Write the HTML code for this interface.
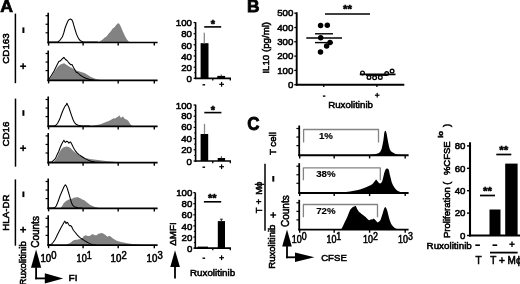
<!DOCTYPE html>
<html><head><meta charset="utf-8"><title>Figure</title>
<style>
html,body{margin:0;padding:0;background:#fff;}
body{width:520px;height:284px;overflow:hidden;font-family:"Liberation Sans",sans-serif;}
svg{display:block;}
svg text{font-family:"Liberation Sans",sans-serif;fill:#000;stroke:#000;stroke-width:0.55px;}
</style></head><body>
<svg width="520" height="284" viewBox="0 0 520 284">
<defs><filter id="bl" x="-2%" y="-2%" width="104%" height="104%"><feGaussianBlur stdDeviation="0.45"/></filter></defs>
<rect width="520" height="284" fill="#fff"/>
<g filter="url(#bl)">
<text transform="translate(0.2 12.3) scale(1.06 1)" font-size="16.7" text-anchor="start" font-weight="bold" style="stroke-width:0.7px">A</text>
<line x1="15.4" y1="13.6" x2="15.4" y2="83.2" stroke="#000" stroke-width="1.5" stroke-linecap="butt"/>
<text transform="translate(9 48.5) rotate(-90)" font-size="9.75" text-anchor="middle" >CD163</text>
<line x1="15.5" y1="98.6" x2="15.5" y2="166.7" stroke="#000" stroke-width="1.5" stroke-linecap="butt"/>
<text transform="translate(9 134.0) rotate(-90)" font-size="9.8" text-anchor="middle" >CD16</text>
<line x1="15.4" y1="179.4" x2="15.4" y2="245.7" stroke="#000" stroke-width="1.5" stroke-linecap="butt"/>
<text transform="translate(9.4 212.6) rotate(-90)" font-size="9.7" text-anchor="middle" >HLA-DR</text>
<rect x="22.4" y="27.4" width="2.0" height="5.6" fill="#000"/>
<rect x="20.1" y="65.45" width="6.0" height="1.5" fill="#000"/>
<rect x="22.35" y="63.2" width="1.5" height="6.0" fill="#000"/>
<rect x="22.4" y="110.2" width="2.0" height="5.6" fill="#000"/>
<rect x="20.1" y="147.45" width="6.0" height="1.5" fill="#000"/>
<rect x="22.35" y="145.2" width="1.5" height="6.0" fill="#000"/>
<rect x="22.4" y="191.5" width="2.0" height="5.6" fill="#000"/>
<rect x="20.1" y="228.95" width="6.0" height="1.5" fill="#000"/>
<rect x="22.35" y="226.7" width="1.5" height="6.0" fill="#000"/>
<polygon points="97.0,42.5 99.4,41.6 102.0,40.0 104.8,37.6 106.5,36.5 108.8,33.6 111.0,31.0 112.9,28.2 114.0,27.8 114.9,26.8 116.2,25.0 117.6,23.5 118.6,23.3 119.6,24.2 121.0,27.0 122.3,30.2 123.6,33.0 125.0,36.3 126.8,39.3 128.4,41.3 130.0,42.5" fill="#828282" stroke="none" stroke-width="1.2" stroke-linejoin="round"/>
<polyline points="48.5,42.1 55.5,42.1 57.7,42.0 59.9,40.3 62.4,36.8 63.9,32.5 65.1,28.0 66.4,24.5 67.8,21.3 68.7,19.9 69.8,19.3 70.8,19.1 71.8,19.7 72.9,22.0 73.8,25.3 75.2,30.0 76.5,34.1 77.9,37.3 79.2,39.5 80.9,41.1 83.3,42.0 86.5,42.1 98.0,42.1" fill="none" stroke="#000" stroke-width="1.05" stroke-linejoin="round"/>
<line x1="48.2" y1="12.7" x2="48.2" y2="43.3" stroke="#000" stroke-width="1.6" stroke-linecap="butt"/>
<line x1="47.400000000000006" y1="42.5" x2="157.6" y2="42.5" stroke="#000" stroke-width="1.7000000000000002" stroke-linecap="butt"/>
<line x1="48.6" y1="42.5" x2="48.6" y2="45.6" stroke="#000" stroke-width="1.4" stroke-linecap="butt"/>
<line x1="83.1" y1="42.5" x2="83.1" y2="45.6" stroke="#000" stroke-width="1.4" stroke-linecap="butt"/>
<line x1="118.2" y1="42.5" x2="118.2" y2="45.6" stroke="#000" stroke-width="1.4" stroke-linecap="butt"/>
<line x1="154.3" y1="42.5" x2="154.3" y2="45.6" stroke="#000" stroke-width="1.4" stroke-linecap="butt"/>
<line x1="45.6" y1="32.8" x2="48.2" y2="32.8" stroke="#000" stroke-width="1.2" stroke-linecap="butt"/>
<line x1="45.6" y1="24.249999999999996" x2="48.2" y2="24.249999999999996" stroke="#000" stroke-width="1.2" stroke-linecap="butt"/>
<line x1="45.6" y1="15.699999999999996" x2="48.2" y2="15.699999999999996" stroke="#000" stroke-width="1.2" stroke-linecap="butt"/>
<polygon points="48.5,80.3 50.5,78.0 53.0,74.0 55.5,70.0 58.0,66.5 60.5,64.5 62.5,63.8 64.2,63.3 66.0,64.5 68.0,65.8 70.0,67.0 72.0,68.0 75.0,70.0 78.0,71.0 81.0,72.0 84.4,72.9 87.0,74.5 91.0,77.0 94.5,78.6 97.8,79.6 103.0,80.3" fill="#828282" stroke="none" stroke-width="1.2" stroke-linejoin="round"/>
<polyline points="48.6,79.6 51.0,76.0 54.1,70.9 56.5,66.0 58.8,61.5 60.5,60.8 62.0,59.0 63.9,57.4 65.5,59.5 67.0,60.5 69.0,63.0 70.9,64.8 72.0,64.6 73.5,67.5 76.3,72.2 78.0,73.0 80.0,75.0 83.0,76.9 86.0,78.3 89.8,79.5 94.0,80.0" fill="none" stroke="#000" stroke-width="1.05" stroke-linejoin="round"/>
<line x1="48.2" y1="50.5" x2="48.2" y2="81.1" stroke="#000" stroke-width="1.6" stroke-linecap="butt"/>
<line x1="47.400000000000006" y1="80.3" x2="157.6" y2="80.3" stroke="#000" stroke-width="1.7000000000000002" stroke-linecap="butt"/>
<line x1="48.6" y1="80.3" x2="48.6" y2="83.39999999999999" stroke="#000" stroke-width="1.4" stroke-linecap="butt"/>
<line x1="83.1" y1="80.3" x2="83.1" y2="83.39999999999999" stroke="#000" stroke-width="1.4" stroke-linecap="butt"/>
<line x1="118.2" y1="80.3" x2="118.2" y2="83.39999999999999" stroke="#000" stroke-width="1.4" stroke-linecap="butt"/>
<line x1="154.3" y1="80.3" x2="154.3" y2="83.39999999999999" stroke="#000" stroke-width="1.4" stroke-linecap="butt"/>
<line x1="45.6" y1="70.6" x2="48.2" y2="70.6" stroke="#000" stroke-width="1.2" stroke-linecap="butt"/>
<line x1="45.6" y1="62.05" x2="48.2" y2="62.05" stroke="#000" stroke-width="1.2" stroke-linecap="butt"/>
<line x1="45.6" y1="53.49999999999999" x2="48.2" y2="53.49999999999999" stroke="#000" stroke-width="1.2" stroke-linecap="butt"/>
<polygon points="88.4,126.3 94.0,125.6 100.5,124.3 103.5,123.0 107.3,121.6 108.8,121.0 111.5,119.5 113.6,118.3 115.0,118.4 116.9,117.2 118.0,116.8 119.3,115.3 120.2,116.8 121.0,118.0 122.0,117.0 123.0,116.6 124.0,118.0 125.0,119.0 127.0,119.8 128.4,121.0 129.5,122.8 130.4,124.3 131.8,125.6 133.5,126.3" fill="#828282" stroke="none" stroke-width="1.2" stroke-linejoin="round"/>
<polyline points="48.5,125.9 53.5,125.9 55.4,125.6 57.5,123.5 59.5,119.6 61.0,115.5 62.8,110.8 64.2,107.8 65.5,105.5 66.3,104.8 66.9,103.2 67.6,104.8 68.9,107.5 70.2,111.5 71.6,115.6 73.0,119.5 74.3,122.3 76.0,124.2 78.3,125.3 81.7,125.9 90.0,125.9" fill="none" stroke="#000" stroke-width="1.05" stroke-linejoin="round"/>
<line x1="48.2" y1="96.5" x2="48.2" y2="127.1" stroke="#000" stroke-width="1.6" stroke-linecap="butt"/>
<line x1="47.400000000000006" y1="126.3" x2="157.6" y2="126.3" stroke="#000" stroke-width="1.7000000000000002" stroke-linecap="butt"/>
<line x1="48.6" y1="126.3" x2="48.6" y2="129.4" stroke="#000" stroke-width="1.4" stroke-linecap="butt"/>
<line x1="83.1" y1="126.3" x2="83.1" y2="129.4" stroke="#000" stroke-width="1.4" stroke-linecap="butt"/>
<line x1="118.2" y1="126.3" x2="118.2" y2="129.4" stroke="#000" stroke-width="1.4" stroke-linecap="butt"/>
<line x1="154.3" y1="126.3" x2="154.3" y2="129.4" stroke="#000" stroke-width="1.4" stroke-linecap="butt"/>
<line x1="45.6" y1="116.6" x2="48.2" y2="116.6" stroke="#000" stroke-width="1.2" stroke-linecap="butt"/>
<line x1="45.6" y1="108.05" x2="48.2" y2="108.05" stroke="#000" stroke-width="1.2" stroke-linecap="butt"/>
<line x1="45.6" y1="99.5" x2="48.2" y2="99.5" stroke="#000" stroke-width="1.2" stroke-linecap="butt"/>
<polygon points="52.5,162.7 54.1,161.5 55.8,159.5 57.5,156.6 59.0,153.0 60.8,149.9 62.5,148.0 64.2,146.9 66.9,146.5 68.5,147.0 70.2,147.8 72.9,150.5 76.3,153.2 80.3,155.9 84.4,157.7 89.8,158.9 97.8,160.0 105.9,160.9 114.0,161.7 123.0,162.7" fill="#828282" stroke="none" stroke-width="1.2" stroke-linejoin="round"/>
<polyline points="48.6,162.3 52.0,161.8 55.4,158.6 57.0,155.0 58.8,151.2 60.2,147.5 61.5,144.5 62.8,142.0 63.9,140.2 64.8,141.8 65.5,142.5 66.5,141.2 67.6,141.5 68.9,143.1 69.8,142.2 70.6,142.0 71.7,144.0 72.9,146.5 74.2,149.0 75.6,151.2 77.2,153.2 79.0,154.6 81.0,156.0 83.0,157.3 85.0,158.6 87.1,159.6 89.0,160.6 91.1,161.3 95.1,162.1 101.0,162.4" fill="none" stroke="#000" stroke-width="1.05" stroke-linejoin="round"/>
<line x1="48.2" y1="132.89999999999998" x2="48.2" y2="163.5" stroke="#000" stroke-width="1.6" stroke-linecap="butt"/>
<line x1="47.400000000000006" y1="162.7" x2="157.6" y2="162.7" stroke="#000" stroke-width="1.7000000000000002" stroke-linecap="butt"/>
<line x1="48.6" y1="162.7" x2="48.6" y2="165.79999999999998" stroke="#000" stroke-width="1.4" stroke-linecap="butt"/>
<line x1="83.1" y1="162.7" x2="83.1" y2="165.79999999999998" stroke="#000" stroke-width="1.4" stroke-linecap="butt"/>
<line x1="118.2" y1="162.7" x2="118.2" y2="165.79999999999998" stroke="#000" stroke-width="1.4" stroke-linecap="butt"/>
<line x1="154.3" y1="162.7" x2="154.3" y2="165.79999999999998" stroke="#000" stroke-width="1.4" stroke-linecap="butt"/>
<line x1="45.6" y1="153.0" x2="48.2" y2="153.0" stroke="#000" stroke-width="1.2" stroke-linecap="butt"/>
<line x1="45.6" y1="144.45" x2="48.2" y2="144.45" stroke="#000" stroke-width="1.2" stroke-linecap="butt"/>
<line x1="45.6" y1="135.9" x2="48.2" y2="135.9" stroke="#000" stroke-width="1.2" stroke-linecap="butt"/>
<polygon points="60.0,208.3 61.8,206.5 63.5,203.6 65.2,201.8 66.9,200.5 68.9,199.5 70.9,198.9 72.6,198.6 74.3,197.6 76.0,197.6 77.6,196.9 79.0,197.8 80.3,198.2 82.3,199.4 84.4,200.3 86.4,202.0 88.4,203.6 90.4,205.0 92.5,205.9 95.0,207.0 97.8,207.7 101.0,208.3" fill="#828282" stroke="none" stroke-width="1.2" stroke-linejoin="round"/>
<polyline points="48.5,207.9 53.0,207.9 54.8,207.6 56.2,206.0 57.5,203.0 58.8,199.5 60.2,195.5 61.5,192.5 62.8,189.5 64.0,186.8 65.3,184.8 66.2,185.8 67.2,188.1 68.4,192.0 69.6,196.2 70.6,199.8 71.6,203.0 72.8,205.3 74.3,206.7 77.6,207.7 82.0,207.9" fill="none" stroke="#000" stroke-width="1.05" stroke-linejoin="round"/>
<line x1="48.2" y1="178.5" x2="48.2" y2="209.10000000000002" stroke="#000" stroke-width="1.6" stroke-linecap="butt"/>
<line x1="47.400000000000006" y1="208.3" x2="157.6" y2="208.3" stroke="#000" stroke-width="1.7000000000000002" stroke-linecap="butt"/>
<line x1="48.6" y1="208.3" x2="48.6" y2="211.4" stroke="#000" stroke-width="1.4" stroke-linecap="butt"/>
<line x1="83.1" y1="208.3" x2="83.1" y2="211.4" stroke="#000" stroke-width="1.4" stroke-linecap="butt"/>
<line x1="118.2" y1="208.3" x2="118.2" y2="211.4" stroke="#000" stroke-width="1.4" stroke-linecap="butt"/>
<line x1="154.3" y1="208.3" x2="154.3" y2="211.4" stroke="#000" stroke-width="1.4" stroke-linecap="butt"/>
<line x1="45.6" y1="198.60000000000002" x2="48.2" y2="198.60000000000002" stroke="#000" stroke-width="1.2" stroke-linecap="butt"/>
<line x1="45.6" y1="190.05" x2="48.2" y2="190.05" stroke="#000" stroke-width="1.2" stroke-linecap="butt"/>
<line x1="45.6" y1="181.50000000000003" x2="48.2" y2="181.50000000000003" stroke="#000" stroke-width="1.2" stroke-linecap="butt"/>
<polygon points="65.5,245.1 68.0,244.0 70.9,242.6 72.5,241.0 74.3,240.0 76.5,239.8 79.0,239.3 80.8,238.8 82.4,237.9 84.0,236.0 85.7,235.2 87.8,236.0 89.8,235.9 91.5,234.6 93.1,234.3 94.8,235.3 96.5,235.2 98.5,233.8 100.5,233.2 102.2,233.0 103.9,233.9 105.5,235.0 107.3,236.8 108.8,236.0 110.4,236.2 112.3,238.0 114.2,239.3 116.2,240.5 118.3,241.3 121.0,242.1 123.6,242.6 127.0,243.3 130.4,243.7 137.0,244.5 143.0,245.1" fill="#828282" stroke="none" stroke-width="1.2" stroke-linejoin="round"/>
<polyline points="48.6,244.8 51.4,244.3 53.0,242.5 54.8,240.0 56.2,237.3 57.5,234.6 58.8,232.0 60.2,229.2 61.5,226.8 62.8,224.5 63.9,222.5 64.9,221.1 65.6,222.8 66.2,223.5 66.9,222.2 67.6,222.4 68.6,224.5 69.6,225.8 70.6,225.6 71.6,226.5 72.6,228.8 73.6,230.5 75.3,232.5 77.0,234.6 78.6,236.3 80.3,237.9 82.4,239.3 84.4,240.6 86.4,241.8 88.4,242.9 90.4,243.9 92.5,244.5 96.0,244.8" fill="none" stroke="#000" stroke-width="1.05" stroke-linejoin="round"/>
<line x1="48.2" y1="215.29999999999998" x2="48.2" y2="245.9" stroke="#000" stroke-width="1.6" stroke-linecap="butt"/>
<line x1="47.400000000000006" y1="245.1" x2="157.6" y2="245.1" stroke="#000" stroke-width="1.7000000000000002" stroke-linecap="butt"/>
<line x1="48.6" y1="245.1" x2="48.6" y2="248.2" stroke="#000" stroke-width="1.4" stroke-linecap="butt"/>
<line x1="83.1" y1="245.1" x2="83.1" y2="248.2" stroke="#000" stroke-width="1.4" stroke-linecap="butt"/>
<line x1="118.2" y1="245.1" x2="118.2" y2="248.2" stroke="#000" stroke-width="1.4" stroke-linecap="butt"/>
<line x1="154.3" y1="245.1" x2="154.3" y2="248.2" stroke="#000" stroke-width="1.4" stroke-linecap="butt"/>
<line x1="45.6" y1="235.4" x2="48.2" y2="235.4" stroke="#000" stroke-width="1.2" stroke-linecap="butt"/>
<line x1="45.6" y1="226.85" x2="48.2" y2="226.85" stroke="#000" stroke-width="1.2" stroke-linecap="butt"/>
<line x1="45.6" y1="218.3" x2="48.2" y2="218.3" stroke="#000" stroke-width="1.2" stroke-linecap="butt"/>
<text transform="translate(40.4 261.7) scale(0.95 1)" font-size="10.2">10<tspan dy="-2.9" font-size="10.0">0</tspan></text>
<text transform="translate(76.6 261.7) scale(0.9 1)" font-size="10.2">10<tspan dy="-2.9" font-size="10.0">1</tspan></text>
<text transform="translate(110.6 261.7) scale(0.95 1)" font-size="10.2">10<tspan dy="-2.9" font-size="10.0">2</tspan></text>
<text transform="translate(146.6 261.7) scale(0.95 1)" font-size="10.2">10<tspan dy="-2.9" font-size="10.0">3</tspan></text>
<text transform="translate(39.0 247.8) rotate(-90)" font-size="10" text-anchor="start" >Counts</text>
<text transform="translate(25.9 285.5) rotate(-90)" font-size="9.6" text-anchor="start" >Ruxolitinib</text>
<line x1="36.1" y1="267.3" x2="36.1" y2="279.29999999999995" stroke="#000" stroke-width="1.8" stroke-linecap="butt"/>
<line x1="35.2" y1="278.4" x2="45.3" y2="278.4" stroke="#000" stroke-width="1.8" stroke-linecap="butt"/>
<polygon points="36.1,249.6 31.0,267.8 41.2,267.8" fill="#000" stroke="none" stroke-width="1.2" stroke-linejoin="round"/>
<polygon points="63.2,278.4 44.8,273.3 44.8,283.5" fill="#000" stroke="none" stroke-width="1.2" stroke-linejoin="round"/>
<text transform="translate(68.5 281.4) scale(1.05 1)" font-size="9.6" text-anchor="start" >FI</text>
<line x1="195.6" y1="22.2" x2="195.6" y2="79.1" stroke="#000" stroke-width="1.6" stroke-linecap="butt"/>
<line x1="194.79999999999998" y1="78.3" x2="231.0" y2="78.3" stroke="#000" stroke-width="1.7" stroke-linecap="butt"/>
<text x="192.0" y="82.2" font-size="9.7" text-anchor="end" >0</text>
<line x1="193.6" y1="78.3" x2="195.6" y2="78.3" stroke="#000" stroke-width="1.2" stroke-linecap="butt"/>
<line x1="194.2" y1="72.725" x2="195.6" y2="72.725" stroke="#000" stroke-width="1.0" stroke-linecap="butt"/>
<text x="192.0" y="70.5" font-size="9.7" text-anchor="end" >20</text>
<line x1="193.6" y1="67.14999999999999" x2="195.6" y2="67.14999999999999" stroke="#000" stroke-width="1.2" stroke-linecap="butt"/>
<line x1="194.2" y1="61.57499999999999" x2="195.6" y2="61.57499999999999" stroke="#000" stroke-width="1.0" stroke-linecap="butt"/>
<text x="192.0" y="59.6" font-size="9.7" text-anchor="end" >40</text>
<line x1="193.6" y1="56.0" x2="195.6" y2="56.0" stroke="#000" stroke-width="1.2" stroke-linecap="butt"/>
<line x1="194.2" y1="50.425" x2="195.6" y2="50.425" stroke="#000" stroke-width="1.0" stroke-linecap="butt"/>
<text x="192.0" y="48.7" font-size="9.7" text-anchor="end" >60</text>
<line x1="193.6" y1="44.849999999999994" x2="195.6" y2="44.849999999999994" stroke="#000" stroke-width="1.2" stroke-linecap="butt"/>
<line x1="194.2" y1="39.27499999999999" x2="195.6" y2="39.27499999999999" stroke="#000" stroke-width="1.0" stroke-linecap="butt"/>
<text x="192.0" y="37.0" font-size="9.7" text-anchor="end" >80</text>
<line x1="193.6" y1="33.699999999999996" x2="195.6" y2="33.699999999999996" stroke="#000" stroke-width="1.2" stroke-linecap="butt"/>
<line x1="194.2" y1="28.124999999999996" x2="195.6" y2="28.124999999999996" stroke="#000" stroke-width="1.0" stroke-linecap="butt"/>
<text x="192.0" y="26.2" font-size="9.7" text-anchor="end" >100</text>
<line x1="193.6" y1="22.549999999999997" x2="195.6" y2="22.549999999999997" stroke="#000" stroke-width="1.2" stroke-linecap="butt"/>
<line x1="212.8" y1="78.3" x2="212.8" y2="80.5" stroke="#000" stroke-width="1.3" stroke-linecap="butt"/>
<line x1="230.3" y1="78.3" x2="230.3" y2="80.5" stroke="#000" stroke-width="1.3" stroke-linecap="butt"/>
<line x1="195.6" y1="104.6" x2="195.6" y2="161.8" stroke="#000" stroke-width="1.6" stroke-linecap="butt"/>
<line x1="194.79999999999998" y1="161" x2="231.0" y2="161" stroke="#000" stroke-width="1.7" stroke-linecap="butt"/>
<text x="192.0" y="164.79999999999998" font-size="9.7" text-anchor="end" >0</text>
<line x1="193.6" y1="161.0" x2="195.6" y2="161.0" stroke="#000" stroke-width="1.2" stroke-linecap="butt"/>
<line x1="194.2" y1="155.4" x2="195.6" y2="155.4" stroke="#000" stroke-width="1.0" stroke-linecap="butt"/>
<text x="192.0" y="153.0" font-size="9.7" text-anchor="end" >20</text>
<line x1="193.6" y1="149.8" x2="195.6" y2="149.8" stroke="#000" stroke-width="1.2" stroke-linecap="butt"/>
<line x1="194.2" y1="144.20000000000002" x2="195.6" y2="144.20000000000002" stroke="#000" stroke-width="1.0" stroke-linecap="butt"/>
<text x="192.0" y="142.2" font-size="9.7" text-anchor="end" >40</text>
<line x1="193.6" y1="138.6" x2="195.6" y2="138.6" stroke="#000" stroke-width="1.2" stroke-linecap="butt"/>
<line x1="194.2" y1="133.0" x2="195.6" y2="133.0" stroke="#000" stroke-width="1.0" stroke-linecap="butt"/>
<text x="192.0" y="130.29999999999998" font-size="9.7" text-anchor="end" >60</text>
<line x1="193.6" y1="127.4" x2="195.6" y2="127.4" stroke="#000" stroke-width="1.2" stroke-linecap="butt"/>
<line x1="194.2" y1="121.80000000000001" x2="195.6" y2="121.80000000000001" stroke="#000" stroke-width="1.0" stroke-linecap="butt"/>
<text x="192.0" y="119.3" font-size="9.7" text-anchor="end" >80</text>
<line x1="193.6" y1="116.2" x2="195.6" y2="116.2" stroke="#000" stroke-width="1.2" stroke-linecap="butt"/>
<line x1="194.2" y1="110.60000000000001" x2="195.6" y2="110.60000000000001" stroke="#000" stroke-width="1.0" stroke-linecap="butt"/>
<text x="192.0" y="108.5" font-size="9.7" text-anchor="end" >100</text>
<line x1="193.6" y1="105.0" x2="195.6" y2="105.0" stroke="#000" stroke-width="1.2" stroke-linecap="butt"/>
<line x1="212.8" y1="161" x2="212.8" y2="163.2" stroke="#000" stroke-width="1.3" stroke-linecap="butt"/>
<line x1="230.3" y1="161" x2="230.3" y2="163.2" stroke="#000" stroke-width="1.3" stroke-linecap="butt"/>
<line x1="195.3" y1="192.6" x2="195.3" y2="248.9" stroke="#000" stroke-width="1.6" stroke-linecap="butt"/>
<line x1="194.5" y1="248.1" x2="231.0" y2="248.1" stroke="#000" stroke-width="1.7" stroke-linecap="butt"/>
<text x="192.4" y="251.7" font-size="9.7" text-anchor="end" >0</text>
<line x1="193.3" y1="248.1" x2="195.3" y2="248.1" stroke="#000" stroke-width="1.2" stroke-linecap="butt"/>
<line x1="193.9" y1="242.54999999999998" x2="195.3" y2="242.54999999999998" stroke="#000" stroke-width="1.0" stroke-linecap="butt"/>
<text x="192.4" y="240.89999999999998" font-size="9.7" text-anchor="end" >20</text>
<line x1="193.3" y1="237.0" x2="195.3" y2="237.0" stroke="#000" stroke-width="1.2" stroke-linecap="butt"/>
<line x1="193.9" y1="231.45" x2="195.3" y2="231.45" stroke="#000" stroke-width="1.0" stroke-linecap="butt"/>
<text x="192.4" y="229.79999999999998" font-size="9.7" text-anchor="end" >40</text>
<line x1="193.3" y1="225.9" x2="195.3" y2="225.9" stroke="#000" stroke-width="1.2" stroke-linecap="butt"/>
<line x1="193.9" y1="220.35" x2="195.3" y2="220.35" stroke="#000" stroke-width="1.0" stroke-linecap="butt"/>
<text x="192.4" y="217.7" font-size="9.7" text-anchor="end" >60</text>
<line x1="193.3" y1="214.8" x2="195.3" y2="214.8" stroke="#000" stroke-width="1.2" stroke-linecap="butt"/>
<line x1="193.9" y1="209.25" x2="195.3" y2="209.25" stroke="#000" stroke-width="1.0" stroke-linecap="butt"/>
<text x="192.4" y="206.89999999999998" font-size="9.7" text-anchor="end" >80</text>
<line x1="193.3" y1="203.7" x2="195.3" y2="203.7" stroke="#000" stroke-width="1.2" stroke-linecap="butt"/>
<line x1="193.9" y1="198.14999999999998" x2="195.3" y2="198.14999999999998" stroke="#000" stroke-width="1.0" stroke-linecap="butt"/>
<text x="192.4" y="196.0" font-size="9.7" text-anchor="end" >100</text>
<line x1="193.3" y1="192.6" x2="195.3" y2="192.6" stroke="#000" stroke-width="1.2" stroke-linecap="butt"/>
<line x1="212.8" y1="248.1" x2="212.8" y2="250.29999999999998" stroke="#000" stroke-width="1.3" stroke-linecap="butt"/>
<line x1="230.3" y1="248.1" x2="230.3" y2="250.29999999999998" stroke="#000" stroke-width="1.3" stroke-linecap="butt"/>
<rect x="200.6" y="43.2" width="7.900000000000006" height="35.099999999999994" fill="#000"/>
<line x1="204.3" y1="32.8" x2="204.3" y2="43.5" stroke="#888" stroke-width="1.3" stroke-linecap="butt"/>
<rect x="217.3" y="75.9" width="7.799999999999983" height="2.3999999999999915" fill="#000"/>
<line x1="221.3" y1="74.6" x2="221.3" y2="76.3" stroke="#555" stroke-width="1.2" stroke-linecap="butt"/>
<line x1="204.2" y1="26.9" x2="221.2" y2="26.9" stroke="#000" stroke-width="1.6" stroke-linecap="butt"/>
<text x="212.8" y="27.8" font-size="11" text-anchor="middle" font-weight="bold" >*</text>
<rect x="200.6" y="134" width="7.599999999999994" height="27" fill="#000"/>
<line x1="204.5" y1="123.8" x2="204.5" y2="134.2" stroke="#888" stroke-width="1.3" stroke-linecap="butt"/>
<rect x="217.7" y="158" width="7.400000000000006" height="3" fill="#000"/>
<line x1="221.4" y1="156.2" x2="221.4" y2="158.3" stroke="#555" stroke-width="1.2" stroke-linecap="butt"/>
<line x1="204.3" y1="112.6" x2="221.4" y2="112.6" stroke="#000" stroke-width="1.6" stroke-linecap="butt"/>
<text x="212.8" y="113.6" font-size="11" text-anchor="middle" font-weight="bold" >*</text>
<rect x="197.5" y="246.6" width="10.5" height="1.5" fill="#000"/>
<rect x="217.8" y="221.1" width="7.199999999999989" height="27.0" fill="#000"/>
<line x1="221.4" y1="219.0" x2="221.4" y2="221.5" stroke="#333" stroke-width="1.2" stroke-linecap="butt"/>
<line x1="219.9" y1="219.2" x2="222.9" y2="219.2" stroke="#333" stroke-width="1.0" stroke-linecap="butt"/>
<line x1="203.9" y1="201.8" x2="221.2" y2="201.8" stroke="#000" stroke-width="1.6" stroke-linecap="butt"/>
<text x="212.3" y="201.8" font-size="11" text-anchor="middle" font-weight="bold" >**</text>
<rect x="202.5" y="84.1" width="2.6" height="1.4" fill="#000"/>
<rect x="219.2" y="83.7" width="4.8" height="1.2" fill="#000"/>
<rect x="221.0" y="81.89999999999999" width="1.2" height="4.8" fill="#000"/>
<rect x="202.5" y="166.5" width="2.6" height="1.4" fill="#000"/>
<rect x="219.2" y="166.1" width="4.8" height="1.2" fill="#000"/>
<rect x="221.0" y="164.29999999999998" width="1.2" height="4.8" fill="#000"/>
<rect x="202.5" y="257.5" width="2.6" height="1.4" fill="#000"/>
<rect x="219.2" y="257.09999999999997" width="4.8" height="1.2" fill="#000"/>
<rect x="221.0" y="255.29999999999998" width="1.2" height="4.8" fill="#000"/>
<text x="212.6" y="276.2" font-size="9.8" text-anchor="middle" >Ruxolitinib</text>
<text transform="translate(176.4 245.8) rotate(-90)" font-size="9.8" text-anchor="start" >ΔMFI</text>
<line x1="175" y1="266" x2="175" y2="278.5" stroke="#000" stroke-width="1.8" stroke-linecap="butt"/>
<polygon points="175.0,250.3 170.3,267.0 179.9,267.0" fill="#000" stroke="none" stroke-width="1.2" stroke-linejoin="round"/>
<text transform="translate(247.0 11.9) scale(1.07 1)" font-size="16.2" text-anchor="start" font-weight="bold" style="stroke-width:0.8px">B</text>
<line x1="296.7" y1="12.3" x2="296.7" y2="85.6" stroke="#000" stroke-width="1.9" stroke-linecap="butt"/>
<line x1="295.8" y1="84.7" x2="404.3" y2="84.7" stroke="#000" stroke-width="1.9" stroke-linecap="butt"/>
<text x="293.3" y="87.8" font-size="9.7" text-anchor="end" >0</text>
<line x1="294.3" y1="84.7" x2="296.7" y2="84.7" stroke="#000" stroke-width="1.3" stroke-linecap="butt"/>
<text x="293.3" y="73.5" font-size="9.7" text-anchor="end" >100</text>
<line x1="294.3" y1="70.4" x2="296.7" y2="70.4" stroke="#000" stroke-width="1.3" stroke-linecap="butt"/>
<text x="293.3" y="59.2" font-size="9.7" text-anchor="end" >200</text>
<line x1="294.3" y1="56.1" x2="296.7" y2="56.1" stroke="#000" stroke-width="1.3" stroke-linecap="butt"/>
<text x="293.3" y="44.9" font-size="9.7" text-anchor="end" >300</text>
<line x1="294.3" y1="41.8" x2="296.7" y2="41.8" stroke="#000" stroke-width="1.3" stroke-linecap="butt"/>
<text x="293.3" y="30.6" font-size="9.7" text-anchor="end" >400</text>
<line x1="294.3" y1="27.5" x2="296.7" y2="27.5" stroke="#000" stroke-width="1.3" stroke-linecap="butt"/>
<text x="293.3" y="16.300000000000004" font-size="9.7" text-anchor="end" >500</text>
<line x1="294.3" y1="13.200000000000003" x2="296.7" y2="13.200000000000003" stroke="#000" stroke-width="1.3" stroke-linecap="butt"/>
<line x1="323.8" y1="84.7" x2="323.8" y2="87.0" stroke="#000" stroke-width="1.3" stroke-linecap="butt"/>
<line x1="376.9" y1="84.7" x2="376.9" y2="87.0" stroke="#000" stroke-width="1.3" stroke-linecap="butt"/>
<text transform="translate(269.4 73.6) rotate(-90)" font-size="9.7" text-anchor="start" >IL10 (pg/ml)</text>
<rect x="322.9" y="95.4" width="2.5" height="1.4" fill="#000"/>
<rect x="374.9" y="94.60000000000001" width="4.6" height="1.2" fill="#000"/>
<rect x="376.59999999999997" y="92.9" width="1.2" height="4.6" fill="#000"/>
<text x="350.6" y="108" font-size="9.7" text-anchor="middle" >Ruxolitinib</text>
<line x1="325" y1="14.0" x2="370" y2="14.0" stroke="#000" stroke-width="1.7" stroke-linecap="butt"/>
<text x="347.5" y="13.0" font-size="11.5" text-anchor="middle" font-weight="bold" >**</text>
<circle cx="320.6" cy="25.4" r="2.75" fill="#000"/>
<circle cx="327.3" cy="25.2" r="2.75" fill="#000"/>
<circle cx="320.7" cy="37.8" r="2.75" fill="#000"/>
<circle cx="330.0" cy="42.6" r="2.75" fill="#000"/>
<circle cx="326.6" cy="46.0" r="2.75" fill="#000"/>
<circle cx="320.5" cy="52" r="2.75" fill="#000"/>
<line x1="306.3" y1="38.0" x2="342" y2="38.0" stroke="#000" stroke-width="1.6" stroke-linecap="butt"/>
<line x1="315" y1="33.8" x2="333" y2="33.8" stroke="#000" stroke-width="1.4" stroke-linecap="butt"/>
<line x1="315" y1="42.6" x2="333" y2="42.6" stroke="#000" stroke-width="1.4" stroke-linecap="butt"/>
<circle cx="362.5" cy="73.0" r="1.85" fill="#fff" stroke="#000" stroke-width="1.3"/>
<circle cx="369" cy="77.4" r="1.85" fill="#fff" stroke="#000" stroke-width="1.3"/>
<circle cx="374.6" cy="77.8" r="1.85" fill="#fff" stroke="#000" stroke-width="1.3"/>
<circle cx="380.3" cy="77.4" r="1.85" fill="#fff" stroke="#000" stroke-width="1.3"/>
<circle cx="386.7" cy="73.6" r="1.85" fill="#fff" stroke="#000" stroke-width="1.3"/>
<circle cx="392.1" cy="71.1" r="1.85" fill="#fff" stroke="#000" stroke-width="1.3"/>
<line x1="359.8" y1="74.4" x2="395.5" y2="74.4" stroke="#000" stroke-width="1.7" stroke-linecap="butt"/>
<line x1="366" y1="75.4" x2="387" y2="75.4" stroke="#000" stroke-width="1.0" stroke-linecap="butt"/>
<text transform="translate(247.2 130.4) scale(0.96 1)" font-size="17.8" text-anchor="start" font-weight="bold" style="stroke-width:0.8px">C</text>
<text transform="translate(276.0 143.6) rotate(-90)" font-size="9.7" text-anchor="middle" >T cell</text>
<line x1="265" y1="163.8" x2="265" y2="230.7" stroke="#000" stroke-width="1.5" stroke-linecap="butt"/>
<text transform="translate(262.2 213.3) rotate(-90)" font-size="9.5" text-anchor="start" >T</text>
<text transform="translate(262.2 204.6) rotate(-90)" font-size="9.5" text-anchor="start" >+</text>
<text transform="translate(262.2 194.8) rotate(-90)" font-size="9.5" text-anchor="start" >Mϕ</text>
<rect x="272.3" y="176.0" width="2.0" height="5.6" fill="#000"/>
<rect x="270.3" y="214.3" width="5.8" height="1.4" fill="#000"/>
<rect x="272.5" y="212.1" width="1.4" height="5.8" fill="#000"/>
<text transform="translate(275.3 268.8) rotate(-90)" font-size="9.6" text-anchor="start" >Ruxolitinib</text>
<text transform="translate(289.3 227.0) rotate(-90)" font-size="10" text-anchor="start" >Counts</text>
<line x1="287.0" y1="245.9" x2="287.0" y2="258.2" stroke="#000" stroke-width="1.8" stroke-linecap="butt"/>
<line x1="286.1" y1="257.3" x2="295.5" y2="257.3" stroke="#000" stroke-width="1.8" stroke-linecap="butt"/>
<polygon points="287.0,229.6 282.2,246.4 291.8,246.4" fill="#000" stroke="none" stroke-width="1.2" stroke-linejoin="round"/>
<polygon points="314.4,257.3 295.0,252.5 295.0,262.1" fill="#000" stroke="none" stroke-width="1.2" stroke-linejoin="round"/>
<text x="321.2" y="260.8" font-size="9.6" text-anchor="start" >CFSE</text>
<polygon points="366.0,155.3 372.0,154.7 376.0,154.0 379.0,153.0 380.4,151.5 381.6,149.0 382.5,145.0 383.4,140.2 383.9,136.0 384.3,132.8 384.8,131.2 385.3,130.8 385.9,131.3 386.6,133.5 387.3,137.5 388.0,141.6 388.8,145.5 389.7,149.0 390.9,151.2 392.4,152.3 394.5,153.6 397.0,154.5 402.0,154.9 407.0,155.3" fill="#000" stroke="none" stroke-width="1.2" stroke-linejoin="round"/>
<polyline points="303.6,142.4 303.6,129.5 378.5,129.5 378.5,142.4" fill="none" stroke="#848484" stroke-width="1.3" stroke-linejoin="round"/>
<text x="325.9" y="138.5" font-size="9.7" text-anchor="middle" font-weight="bold" style="stroke-width:0.15px">1%</text>
<line x1="299.2" y1="125.50000000000001" x2="299.2" y2="156.10000000000002" stroke="#000" stroke-width="1.8" stroke-linecap="butt"/>
<line x1="298.3" y1="155.3" x2="408.6" y2="155.3" stroke="#000" stroke-width="1.9000000000000001" stroke-linecap="butt"/>
<line x1="299.7" y1="155.3" x2="299.7" y2="158.4" stroke="#000" stroke-width="1.4" stroke-linecap="butt"/>
<line x1="334.2" y1="155.3" x2="334.2" y2="158.4" stroke="#000" stroke-width="1.4" stroke-linecap="butt"/>
<line x1="369.6" y1="155.3" x2="369.6" y2="158.4" stroke="#000" stroke-width="1.4" stroke-linecap="butt"/>
<line x1="405.2" y1="155.3" x2="405.2" y2="158.4" stroke="#000" stroke-width="1.4" stroke-linecap="butt"/>
<line x1="296.4" y1="145.60000000000002" x2="299.2" y2="145.60000000000002" stroke="#000" stroke-width="1.2" stroke-linecap="butt"/>
<line x1="296.4" y1="137.05" x2="299.2" y2="137.05" stroke="#000" stroke-width="1.2" stroke-linecap="butt"/>
<line x1="296.4" y1="128.50000000000003" x2="299.2" y2="128.50000000000003" stroke="#000" stroke-width="1.2" stroke-linecap="butt"/>
<polygon points="340.0,193.0 346.0,192.0 350.0,191.4 356.7,190.3 360.0,189.4 363.5,188.3 366.0,187.3 368.8,186.0 370.5,185.3 372.2,184.3 373.6,182.8 374.9,180.9 375.6,180.0 376.2,179.6 377.2,180.8 378.3,182.3 379.3,183.2 380.3,183.6 381.3,182.8 382.3,180.9 383.3,177.0 384.3,172.8 385.2,170.3 386.1,168.8 387.2,168.5 388.4,169.0 389.1,171.0 389.7,174.2 390.7,178.3 391.7,182.3 393.0,185.3 394.4,187.6 396.0,189.6 397.8,191.0 401.0,192.2 406.0,193.0" fill="#000" stroke="none" stroke-width="1.2" stroke-linejoin="round"/>
<polyline points="303.4,180.3 303.4,167.8 380.3,167.8 380.3,180.3" fill="none" stroke="#848484" stroke-width="1.3" stroke-linejoin="round"/>
<text x="325.9" y="177.1" font-size="9.7" text-anchor="middle" font-weight="bold" style="stroke-width:0.15px">38%</text>
<line x1="299.2" y1="163.2" x2="299.2" y2="193.8" stroke="#000" stroke-width="1.8" stroke-linecap="butt"/>
<line x1="298.3" y1="193.0" x2="408.6" y2="193.0" stroke="#000" stroke-width="1.9000000000000001" stroke-linecap="butt"/>
<line x1="299.7" y1="193.0" x2="299.7" y2="196.1" stroke="#000" stroke-width="1.4" stroke-linecap="butt"/>
<line x1="334.2" y1="193.0" x2="334.2" y2="196.1" stroke="#000" stroke-width="1.4" stroke-linecap="butt"/>
<line x1="369.6" y1="193.0" x2="369.6" y2="196.1" stroke="#000" stroke-width="1.4" stroke-linecap="butt"/>
<line x1="405.2" y1="193.0" x2="405.2" y2="196.1" stroke="#000" stroke-width="1.4" stroke-linecap="butt"/>
<line x1="296.4" y1="183.3" x2="299.2" y2="183.3" stroke="#000" stroke-width="1.2" stroke-linecap="butt"/>
<line x1="296.4" y1="174.75" x2="299.2" y2="174.75" stroke="#000" stroke-width="1.2" stroke-linecap="butt"/>
<line x1="296.4" y1="166.20000000000002" x2="299.2" y2="166.20000000000002" stroke="#000" stroke-width="1.2" stroke-linecap="butt"/>
<polygon points="340.0,229.6 341.4,229.0 343.0,226.0 344.8,222.0 346.2,219.3 347.5,216.6 348.8,213.0 350.2,209.8 351.5,208.3 352.9,207.1 354.3,206.5 355.6,205.8 356.3,207.0 356.9,208.5 357.9,210.3 358.9,211.8 360.2,212.8 361.6,213.9 363.0,215.0 364.3,215.9 365.6,217.0 367.0,218.6 368.0,219.6 369.0,220.3 370.0,220.0 371.0,219.3 372.3,219.4 373.7,218.6 374.8,219.4 375.8,220.6 376.8,221.8 377.8,222.6 379.2,221.6 380.5,219.9 381.5,217.0 382.5,213.9 383.5,210.5 384.5,207.8 385.5,206.9 386.3,208.2 387.2,210.5 388.2,214.5 389.2,218.6 390.2,221.6 391.2,224.0 392.5,225.8 393.9,227.3 395.5,228.4 397.3,229.0 402.0,229.4 407.0,229.6" fill="#000" stroke="none" stroke-width="1.2" stroke-linejoin="round"/>
<polyline points="303.4,217.2 303.4,204.5 377.5,204.5 377.5,217.2" fill="none" stroke="#848484" stroke-width="1.3" stroke-linejoin="round"/>
<text x="325.9" y="214.0" font-size="9.7" text-anchor="middle" font-weight="bold" style="stroke-width:0.15px">72%</text>
<line x1="299.2" y1="199.79999999999998" x2="299.2" y2="230.4" stroke="#000" stroke-width="1.8" stroke-linecap="butt"/>
<line x1="298.3" y1="229.6" x2="408.6" y2="229.6" stroke="#000" stroke-width="1.9000000000000001" stroke-linecap="butt"/>
<line x1="299.7" y1="229.6" x2="299.7" y2="232.7" stroke="#000" stroke-width="1.4" stroke-linecap="butt"/>
<line x1="334.2" y1="229.6" x2="334.2" y2="232.7" stroke="#000" stroke-width="1.4" stroke-linecap="butt"/>
<line x1="369.6" y1="229.6" x2="369.6" y2="232.7" stroke="#000" stroke-width="1.4" stroke-linecap="butt"/>
<line x1="405.2" y1="229.6" x2="405.2" y2="232.7" stroke="#000" stroke-width="1.4" stroke-linecap="butt"/>
<line x1="296.4" y1="219.9" x2="299.2" y2="219.9" stroke="#000" stroke-width="1.2" stroke-linecap="butt"/>
<line x1="296.4" y1="211.35" x2="299.2" y2="211.35" stroke="#000" stroke-width="1.2" stroke-linecap="butt"/>
<line x1="296.4" y1="202.8" x2="299.2" y2="202.8" stroke="#000" stroke-width="1.2" stroke-linecap="butt"/>
<text transform="translate(291.8 243.3) scale(0.88 1)" font-size="10.2">10<tspan dy="-3.0" font-size="10.0">0</tspan></text>
<text transform="translate(326.4 243.3) scale(0.88 1)" font-size="10.2">10<tspan dy="-3.0" font-size="10.0">1</tspan></text>
<text transform="translate(363.0 243.3) scale(0.88 1)" font-size="10.2">10<tspan dy="-3.0" font-size="10.0">2</tspan></text>
<text transform="translate(398.1 243.3) scale(0.88 1)" font-size="10.2">10<tspan dy="-3.0" font-size="10.0">3</tspan></text>
<line x1="470" y1="142.3" x2="470" y2="236.5" stroke="#000" stroke-width="2.1" stroke-linecap="butt"/>
<line x1="469" y1="235.5" x2="520" y2="235.5" stroke="#000" stroke-width="2.1" stroke-linecap="butt"/>
<text x="465.5" y="238.8" font-size="9.7" text-anchor="end" >0</text>
<line x1="467.0" y1="235.5" x2="470" y2="235.5" stroke="#000" stroke-width="1.4" stroke-linecap="butt"/>
<text x="465.5" y="216.4" font-size="9.7" text-anchor="end" >20</text>
<line x1="467.0" y1="213.1" x2="470" y2="213.1" stroke="#000" stroke-width="1.4" stroke-linecap="butt"/>
<text x="465.5" y="194.0" font-size="9.7" text-anchor="end" >40</text>
<line x1="467.0" y1="190.7" x2="470" y2="190.7" stroke="#000" stroke-width="1.4" stroke-linecap="butt"/>
<text x="465.5" y="171.60000000000002" font-size="9.7" text-anchor="end" >60</text>
<line x1="467.0" y1="168.3" x2="470" y2="168.3" stroke="#000" stroke-width="1.4" stroke-linecap="butt"/>
<text x="465.5" y="149.20000000000002" font-size="9.7" text-anchor="end" >80</text>
<line x1="467.0" y1="145.9" x2="470" y2="145.9" stroke="#000" stroke-width="1.4" stroke-linecap="butt"/>
<rect x="489.5" y="209.5" width="11.0" height="26.0" fill="#000"/>
<rect x="505.2" y="163.6" width="12.400000000000034" height="71.9" fill="#000"/>
<line x1="480" y1="195.5" x2="495" y2="195.5" stroke="#000" stroke-width="1.7" stroke-linecap="butt"/>
<text x="487.5" y="194.8" font-size="11.5" text-anchor="middle" font-weight="bold" >**</text>
<line x1="496.3" y1="154.5" x2="511.3" y2="154.5" stroke="#000" stroke-width="1.7" stroke-linecap="butt"/>
<text x="503.8" y="153.8" font-size="11.5" text-anchor="middle" font-weight="bold" >**</text>
<text transform="translate(449.5 238.0) rotate(-90) scale(1.015 1)" font-size="9.4" text-anchor="start" >Proliferation</text>
<text transform="translate(449.5 184.7) rotate(-90)" font-size="9.4" text-anchor="start" >(</text>
<text transform="translate(449.5 175.1) rotate(-90) scale(1.01 1)" font-size="9.4" text-anchor="start" >%CFSE</text>
<text transform="translate(443.2 137.8) rotate(-90)" font-size="7.8" text-anchor="start" font-weight="bold" >lo</text>
<text transform="translate(449.6 126.9) rotate(-90)" font-size="9.4" text-anchor="start" >)</text>
<text x="426.6" y="249.3" font-size="9.8" text-anchor="start" >Ruxolitinib</text>
<rect x="475.3" y="244.4" width="4.6" height="1.6" fill="#000"/>
<rect x="492.5" y="244.4" width="4.7" height="1.6" fill="#000"/>
<rect x="509.3" y="243.52499999999998" width="5.4" height="1.35" fill="#000"/>
<rect x="511.325" y="241.5" width="1.35" height="5.4" fill="#000"/>
<line x1="490" y1="252.6" x2="517.6" y2="252.6" stroke="#000" stroke-width="1.8" stroke-linecap="butt"/>
<text x="478.6" y="264.3" font-size="10" text-anchor="middle" >T</text>
<text x="490.3" y="264.3" font-size="10" text-anchor="start" >T + Mϕ</text>
</g>
</svg>
</body></html>
